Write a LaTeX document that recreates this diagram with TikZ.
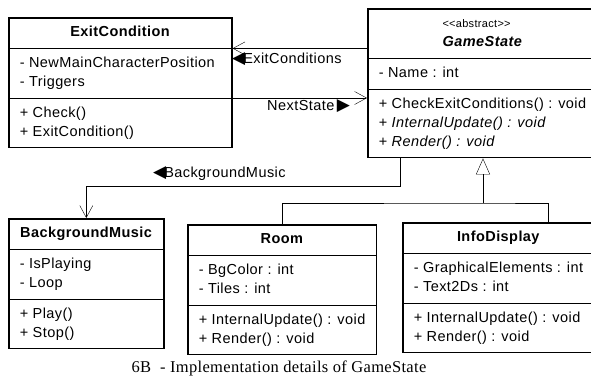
\documentclass[tikz,border=0pt]{standalone}
\usepackage{fontspec}
\setmainfont{Liberation Sans}[LetterSpace=3]
\newfontfamily\capfont{Liberation Serif}[LetterSpace=2]
\newfontfamily\symfont{DejaVu Sans}
\usetikzlibrary{arrows.meta,positioning,shapes.multipart}

\begin{document}
\begin{tikzpicture}[
    x=1pt, y=1pt,
    font=\fontsize{14.5}{19}\selectfont,
    cls/.style={rectangle split, rectangle split parts=3, draw, line width=1.6pt,
        rectangle split draw splits=false, rectangle split part align={center,left,left},
        align=left, inner xsep=11pt, inner ysep=5pt, anchor=north west},
    assoc/.style={thin, -{Straight Barb[length=12pt,width=13pt]}},
    inherit/.style={thin, -{Triangle[open,length=16pt,width=14pt]}},
    role/.style={inner sep=0pt, anchor=west}
]
\useasboundingbox (0,0) rectangle (591,-378);

% classes
\node[cls, minimum width=223pt] (ec) at (8,-17)
    {\strut\textbf{ExitCondition}
     \nodepart{two}\strut- NewMainCharacterPosition\\\strut- Triggers
     \nodepart{three}\strut+ Check()\\\strut+ ExitCondition()};
\node[cls, minimum width=223pt] (gs) at (367,-8)
    {\strut{\fontsize{11}{19}\selectfont <\kern0pt<abstract>\kern0pt>}\\\strut\textbf{\textit{GameState}}
     \nodepart{two}\strut- Name : int
     \nodepart{three}\strut+ CheckExitConditions() : void\\\strut+ \textit{InternalUpdate() : void}\\\strut+ \textit{Render() : void}};
\node[cls, minimum width=155pt] (bgm) at (8,-218)
    {\strut\textbf{BackgroundMusic}
     \nodepart{two}\strut- IsPlaying\\\strut- Loop
     \nodepart{three}\strut+ Play()\\\strut+ Stop()};
\node[cls, minimum width=187pt] (room) at (187,-224)
    {\strut\textbf{Room}
     \nodepart{two}\strut- BgColor : int\\\strut- Tiles : int
     \nodepart{three}\strut+ InternalUpdate() : void\\\strut+ Render() : void};
\node[cls, minimum width=188pt] (info) at (402,-222)
    {\strut\textbf{InfoDisplay}
     \nodepart{two}\strut- GraphicalElements : int\\\strut- Text2Ds : int
     \nodepart{three}\strut+ InternalUpdate() : void\\\strut+ Render() : void};
\foreach \c in {ec,gs,bgm,room,info} {
    \draw[thin] (\c.text split west) -- (\c.text split east);
    \draw[thin] (\c.two split west) -- (\c.two split east);
}

% associations
\draw[assoc] (gs.west |- ec.text split) -- (ec.text split east);
\draw[assoc] (ec.two split east) -- (gs.west |- ec.two split);
\draw[assoc] (gs.south west) ++(33,0) -- ++(0,-28) -| (bgm.north);
\node[role] (lexit) at (232,-59) {{\symfont\fontsize{17}{17}\selectfont ◀}\kern-2pt ExitConditions};
\node[role] (lnext) at (267,-106) {NextState\,{\symfont\fontsize{17}{17}\selectfont ▶}};
\node[role] (lbgm) at (153,-174) {{\symfont\fontsize{17}{17}\selectfont ◀}\kern-2pt BackgroundMusic};

% generalisation
\coordinate (gen) at (483,-203);
\draw[thin] (room.north) |- (gen) -| ([xshift=50pt]info.north);
\draw[inherit] (gen) -- (gen |- gs.south);

\node[font=\capfont\fontsize{16.5}{18}\selectfont] (cap) at (279,-368) {6B\ \ - Implementation details of GameState};
\end{tikzpicture}
\end{document}
